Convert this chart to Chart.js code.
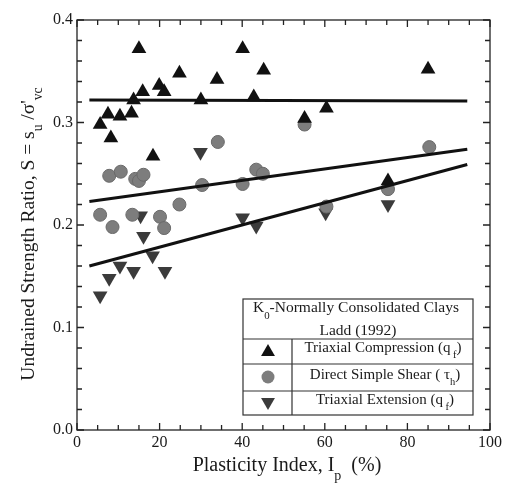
<!DOCTYPE html>
<html>
<head>
<meta charset="utf-8">
<script src="https://cdn.jsdelivr.net/npm/chart.js@4.4.1/dist/chart.umd.min.js"></script>
<style>
  html, body { margin: 0; padding: 0; background: #fff; }
  #wrap { width: 506px; height: 494px; position: relative; }
</style>
</head>
<body>
<div id="wrap"><canvas id="ladd"></canvas></div>
<script>
// Triaxial compression (q_f)
var tcX = [5.6, 7.5, 8.2, 10.4, 13.2, 13.7, 15.0, 15.9, 18.4, 19.9, 21.1, 24.8, 30.0, 33.9, 40.1, 42.8, 45.2, 55.1, 60.4, 75.3, 85.0];
var tcY = [0.298, 0.308, 0.285, 0.306, 0.309, 0.322, 0.372, 0.330, 0.267, 0.336, 0.330, 0.348, 0.322, 0.342, 0.372, 0.325, 0.351, 0.304, 0.314, 0.243, 0.352];
// Direct simple shear (tau_h)
var dssX = [5.6, 7.8, 8.6, 10.6, 13.4, 14.1, 15.0, 16.1, 20.1, 21.1, 24.8, 30.3, 34.1, 40.1, 43.4, 45.0, 55.1, 60.4, 75.3, 85.3];
var dssY = [0.210, 0.248, 0.198, 0.252, 0.210, 0.245, 0.243, 0.249, 0.208, 0.197, 0.220, 0.239, 0.281, 0.240, 0.254, 0.250, 0.298, 0.218, 0.235, 0.276];
// Triaxial extension (q_f)
var teX = [5.6, 7.8, 10.4, 13.7, 15.4, 16.1, 18.3, 21.3, 29.9, 40.1, 43.4, 60.2, 75.3];
var teY = [0.131, 0.148, 0.160, 0.155, 0.209, 0.189, 0.170, 0.155, 0.271, 0.207, 0.199, 0.212, 0.220];
// trend lines (end points)
var fitX = [3, 94.5];
var tcFitY = [0.322, 0.321];
var dssFitY = [0.223, 0.274];
var teFitY = [0.160, 0.259];

var xTicks = [0, 20, 40, 60, 80, 100];
var yTicks = [0.0, 0.1, 0.2, 0.3, 0.4];

function pts(xs, ys) {
    return xs.map(function (x, i) { return { x: x, y: ys[i] }; });
}

var serif = '"Liberation Serif", "DejaVu Serif", serif';

// draw text made of [string, 'n' | 'sub'] parts
function richText(ctx, parts, x, y, size, align) {
    var w = 0;
    parts.forEach(function (p) {
        ctx.font = (p[1] == 'sub' ? size * 0.7 : size) + 'px ' + serif;
        w += ctx.measureText(p[0]).width;
    });
    var cx = align == 'center' ? x - w / 2 : x;
    ctx.textAlign = 'left';
    ctx.textBaseline = 'middle';
    parts.forEach(function (p) {
        var s = p[1] == 'sub' ? size * 0.7 : size;
        ctx.font = s + 'px ' + serif;
        ctx.fillText(p[0], cx, p[1] == 'sub' ? y + size * 0.5 : y);
        cx += ctx.measureText(p[0]).width;
    });
}

function marker(ctx, kind, x, y) {
    ctx.save();
    ctx.beginPath();
    if (kind == 'circle') {
        ctx.fillStyle = '#7d7d7d';
        ctx.arc(x, y, 6.5, 0, Math.PI * 2);
    } else {
        var r = 8, s = kind == 'up' ? -1 : 1;
        ctx.fillStyle = kind == 'up' ? '#111' : '#3b3b3b';
        ctx.moveTo(x, y + s * r);
        ctx.lineTo(x + r * 0.866, y - s * r * 0.5);
        ctx.lineTo(x - r * 0.866, y - s * r * 0.5);
        ctx.closePath();
    }
    ctx.fill();
    ctx.restore();
}

var decorations = {
    id: 'decorations',
    afterDraw: function (chart) {
        var ctx = chart.ctx, a = chart.chartArea;
        var xs = chart.scales.x, ys = chart.scales.y;
        ctx.save();
        ctx.strokeStyle = '#222';
        ctx.lineWidth = 1.3;
        ctx.strokeRect(a.left, a.top, a.right - a.left, a.bottom - a.top);
        // inward ticks on all four sides
        ctx.beginPath();
        for (var v = 0; v <= 100; v += 5) {
            var px = xs.getPixelForValue(v), len = v % 20 == 0 ? 7 : 5;
            ctx.moveTo(px, a.bottom); ctx.lineTo(px, a.bottom - len);
            ctx.moveTo(px, a.top); ctx.lineTo(px, a.top + len);
        }
        for (var k = 0; k <= 20; k++) {
            var py = ys.getPixelForValue(k * 0.02), l2 = k % 5 == 0 ? 7 : 5;
            ctx.moveTo(a.left, py); ctx.lineTo(a.left + l2, py);
            ctx.moveTo(a.right, py); ctx.lineTo(a.right - l2, py);
        }
        ctx.stroke();

        // axis titles
        ctx.fillStyle = '#1a1a1a';
        richText(ctx, [['Plasticity Index, I', 'n'], ['p', 'sub'], ['  (%)', 'n']], 287, 466, 20, 'center');
        ctx.save();
        ctx.translate(29, 234);
        ctx.rotate(-Math.PI / 2);
        richText(ctx, [['Undrained Strength Ratio, S = s', 'n'], ['u', 'sub'], [' /σ\'', 'n'], ['vc', 'sub']], 0, 0, 19.5, 'center');
        ctx.restore();

        // legend table
        var L = 243, R = 473, T = 299, B = 415, D = 292;
        ctx.fillStyle = '#fff';
        ctx.fillRect(L, T, R - L, B - T);
        ctx.strokeStyle = '#333';
        ctx.lineWidth = 1.2;
        ctx.strokeRect(L, T, R - L, B - T);
        ctx.beginPath();
        [339, 364, 391].forEach(function (yy) { ctx.moveTo(L, yy); ctx.lineTo(R, yy); });
        ctx.moveTo(D, 339); ctx.lineTo(D, B);
        ctx.stroke();
        ctx.fillStyle = '#1a1a1a';
        richText(ctx, [['K', 'n'], ['0', 'sub'], ['-Normally Consolidated Clays', 'n']], 356, 308, 15.5, 'center');
        richText(ctx, [['Ladd (1992)', 'n']], 358, 331, 15.5, 'center');
        richText(ctx, [['Triaxial Compression (q', 'n'], [' f', 'sub'], [')', 'n']], 383, 348, 15, 'center');
        richText(ctx, [['Direct Simple Shear ( τ', 'n'], ['h', 'sub'], [')', 'n']], 385, 375, 15, 'center');
        richText(ctx, [['Triaxial Extension (q', 'n'], [' f', 'sub'], [')', 'n']], 385, 400, 15, 'center');
        marker(ctx, 'up', 268, 352);
        marker(ctx, 'circle', 268, 377);
        marker(ctx, 'down', 268, 402);
        ctx.restore();
    }
};

var lineStyle = { type: 'line', showLine: true, borderColor: '#111', borderWidth: 3, pointRadius: 0, fill: false };

new Chart(document.getElementById('ladd'), {
    type: 'scatter',
    data: {
        datasets: [
            Object.assign({ label: 'TC fit', data: pts(fitX, tcFitY) }, lineStyle),
            Object.assign({ label: 'DSS fit', data: pts(fitX, dssFitY) }, lineStyle),
            Object.assign({ label: 'TE fit', data: pts(fitX, teFitY) }, lineStyle),
            {
                label: 'Triaxial Compression',
                data: pts(tcX, tcY),
                pointStyle: 'triangle',
                pointRadius: 8.5,
                backgroundColor: '#111',
                borderColor: '#111',
                borderWidth: 0
            },
            {
                label: 'Direct Simple Shear',
                data: pts(dssX, dssY),
                pointStyle: 'circle',
                pointRadius: 6.5,
                backgroundColor: '#7d7d7d',
                borderColor: '#6a6a6a',
                borderWidth: 1
            },
            {
                label: 'Triaxial Extension',
                data: pts(teX, teY),
                pointStyle: 'triangle',
                rotation: 180,
                pointRadius: 8.5,
                backgroundColor: '#3b3b3b',
                borderColor: '#3b3b3b',
                borderWidth: 0
            }
        ]
    },
    options: {
        responsive: true,
        maintainAspectRatio: false,
        animation: false,
        layout: { padding: { top: 20, right: 16, left: 0, bottom: 0 } },
        plugins: {
            legend: { display: false },
            tooltip: { enabled: false }
        },
        scales: {
            x: {
                type: 'linear',
                min: 0,
                max: 100,
                afterBuildTicks: function (s) { s.ticks = xTicks.map(function (v) { return { value: v }; }); },
                afterFit: function (s) { s.height = 64; },
                ticks: { padding: 3, color: '#1a1a1a', font: { family: serif, size: 16 } },
                grid: { display: false, drawTicks: false },
                border: { display: false }
            },
            y: {
                type: 'linear',
                min: 0,
                max: 0.4,
                afterBuildTicks: function (s) { s.ticks = yTicks.map(function (v) { return { value: v }; }); },
                afterFit: function (s) { s.width = 77; },
                ticks: {
                    padding: 4,
                    color: '#1a1a1a',
                    font: { family: serif, size: 16 },
                    callback: function (v) { return v.toFixed(1); }
                },
                grid: { display: false, drawTicks: false },
                border: { display: false }
            }
        }
    },
    plugins: [decorations]
});
</script>
</body>
</html>
